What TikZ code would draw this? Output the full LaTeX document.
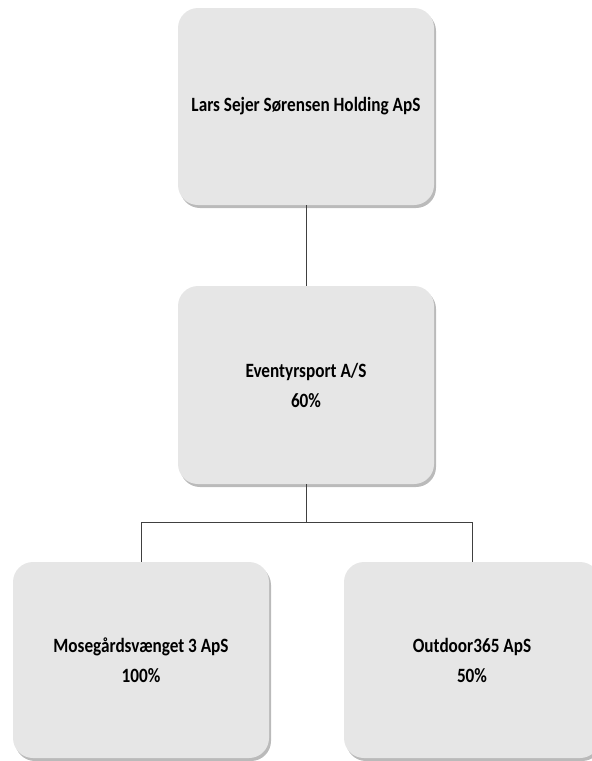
\documentclass[tikz,border=0pt]{standalone}
\usepackage{graphicx}
\usepackage{fontspec}
\setmainfont{Carlito}
\usetikzlibrary{shadows}
\definecolor{boxgray}{HTML}{E6E6E6}
\newcommand{\talltxt}[1]{\scalebox{1}[1.18]{#1}}
\begin{document}
\begin{tikzpicture}[x=1pt,y=-1pt,
  orgbox/.style={rounded corners=20pt, fill=boxgray, draw=none,
    minimum width=256pt, inner sep=0pt, align=center,
    font=\bfseries\fontsize{17.2}{30}\selectfont,
    drop shadow={shadow xshift=2pt, shadow yshift=-3pt, opacity=0.45, fill=black!60}},
  link/.style={draw=black!75, line width=0.9pt}]
\useasboundingbox (0,0) rectangle (592,761);
\node[orgbox, minimum height=197pt] (top) at (306,106.5) {\talltxt{Lars Sejer Sørensen Holding ApS}};
\node[orgbox, minimum height=198pt] (mid) at (306,385) {\talltxt{Eventyrsport A/S}\\\talltxt{60\%}};
\node[orgbox, minimum height=196pt] (bl) at (141,660) {\talltxt{Mosegårdsvænget 3 ApS}\\\talltxt{100\%}};
\node[orgbox, minimum height=196pt] (br) at (472,660) {\talltxt{Outdoor365 ApS}\\\talltxt{50\%}};
\draw[link] (top.south) -- (mid.north);
\draw[link] (mid.south) -- ++(0,38) coordinate (j);
\draw[link] (bl.north) |- (j) -| (br.north);
\end{tikzpicture}
\end{document}
